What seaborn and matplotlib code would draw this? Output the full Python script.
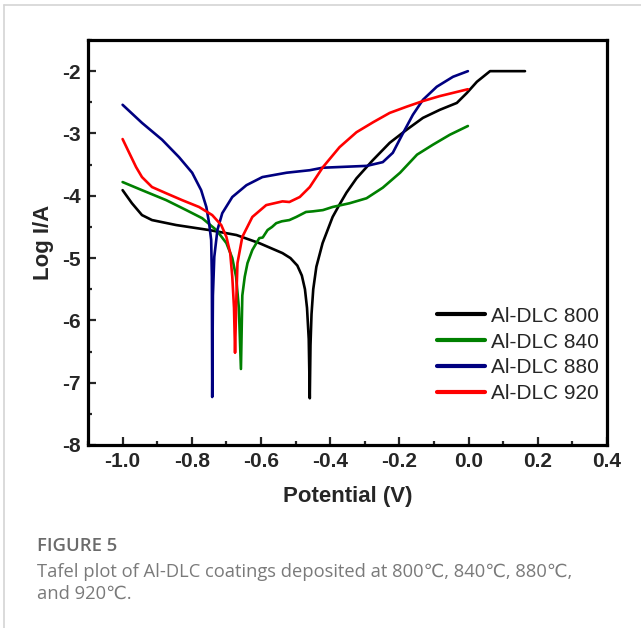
import numpy as np
import pandas as pd
import matplotlib
matplotlib.use("Agg")
import matplotlib.pyplot as plt
import seaborn as sns
from matplotlib.ticker import MultipleLocator, FixedLocator, FixedFormatter
from matplotlib.lines import Line2D

# ---------------- data ----------------
series_names = ["Al-DLC 800", "Al-DLC 840", "Al-DLC 880", "Al-DLC 920"]

v_800 = [-1.0, -0.973, -0.944, -0.915, -0.845, -0.75, -0.671, -0.605, -0.538, -0.515,
         -0.495, -0.482, -0.473, -0.467, -0.462, -0.459, -0.457, -0.454, -0.449, -0.44,
         -0.422, -0.393, -0.373, -0.353, -0.324, -0.277, -0.228, -0.179, -0.132, -0.083,
         -0.034, -0.005, 0.024, 0.062, 0.163]
i_800 = [-3.91, -4.12, -4.31, -4.39, -4.47, -4.55, -4.63, -4.76, -4.92, -5.0,
         -5.12, -5.28, -5.5, -5.8, -6.3, -7.25, -6.4, -5.9, -5.5, -5.14,
         -4.76, -4.34, -4.14, -3.95, -3.72, -3.43, -3.15, -2.94, -2.75, -2.62,
         -2.51, -2.35, -2.17, -2.0, -2.0]

v_840 = [-1.0, -0.944, -0.874, -0.816, -0.77, -0.729, -0.70, -0.683, -0.672, -0.664,
         -0.658, -0.654, -0.647, -0.639, -0.625, -0.605, -0.595, -0.581, -0.568, -0.556,
         -0.54, -0.518, -0.498, -0.47, -0.45, -0.421, -0.393, -0.344, -0.295, -0.248,
         -0.198, -0.149, -0.103, -0.054, -0.002]
i_840 = [-3.78, -3.91, -4.07, -4.23, -4.36, -4.55, -4.76, -5.0, -5.3, -5.8,
         -6.78, -5.6, -5.3, -5.08, -4.87, -4.68, -4.67, -4.55, -4.5, -4.44,
         -4.41, -4.39, -4.34, -4.26, -4.25, -4.23, -4.18, -4.12, -4.04, -3.87,
         -3.63, -3.34, -3.18, -3.02, -2.88]

v_880 = [-1.0, -0.944, -0.886, -0.837, -0.799, -0.773, -0.758, -0.75, -0.744, -0.742,
         -0.741, -0.739, -0.735, -0.726, -0.712, -0.683, -0.642, -0.596, -0.526, -0.459,
         -0.422, -0.294, -0.248, -0.219, -0.19, -0.161, -0.132, -0.092, -0.045, -0.002]
i_880 = [-2.54, -2.83, -3.10, -3.38, -3.63, -3.91, -4.18, -4.44, -4.71, -5.3,
         -7.23, -5.6, -4.98, -4.55, -4.28, -4.02, -3.83, -3.70, -3.63, -3.59,
         -3.55, -3.52, -3.46, -3.31, -3.0, -2.70, -2.46, -2.25, -2.09, -2.0]

v_920 = [-1.0, -0.981, -0.961, -0.944, -0.915, -0.874, -0.828, -0.779, -0.741, -0.715,
         -0.70, -0.689, -0.683, -0.678, -0.675, -0.671, -0.668, -0.654, -0.625, -0.585,
         -0.538, -0.518, -0.488, -0.459, -0.421, -0.373, -0.324, -0.276, -0.228, -0.179,
         -0.132, -0.083, -0.002]
i_920 = [-3.09, -3.31, -3.54, -3.70, -3.86, -3.96, -4.07, -4.18, -4.31, -4.47,
         -4.66, -4.92, -5.30, -5.8, -6.52, -5.6, -5.08, -4.66, -4.34, -4.15,
         -4.09, -4.10, -4.02, -3.86, -3.54, -3.22, -2.98, -2.82, -2.67, -2.57,
         -2.48, -2.40, -2.29]

x_ticks = [-1.0, -0.8, -0.6, -0.4, -0.2, 0.0, 0.2, 0.4]
x_tick_labels = ["-1.0", "-0.8", "-0.6", "-0.4", "-0.2", "0.0", "0.2", "0.4"]
y_ticks = [-8, -7, -6, -5, -4, -3, -2]
y_tick_labels = ["-8", "-7", "-6", "-5", "-4", "-3", "-2"]

colors = ["#000000", "#008000", "#000080", "#ff0000"]

caption_title = "FIGURE 5"
caption_text = ("Tafel plot of Al-DLC coatings deposited at 800\u2103, 840\u2103, 880\u2103,\n"
                "and 920\u2103.")

# ---------------- build table ----------------
frames = []
for name, v, i in zip(series_names, [v_800, v_840, v_880, v_920],
                      [i_800, i_840, i_880, i_920]):
    frames.append(pd.DataFrame({"Potential": v, "LogI": i, "Sample": name}))
df = pd.concat(frames, ignore_index=True)

# ---------------- figure ----------------
sns.set_style("white")
plt.rcParams["font.family"] = ["Liberation Sans", "DejaVu Sans"]

W, H = 641, 628
fig = plt.figure(figsize=(W / 100, H / 100), dpi=100)
ax = fig.add_axes([88 / W, 1 - 445 / H, (607 - 88) / W, (445 - 40) / H])

sns.lineplot(data=df, x="Potential", y="LogI", hue="Sample", units="Sample",
             estimator=None, sort=False, palette=dict(zip(series_names, colors)),
             linewidth=1.9, ax=ax, legend=False)
for ln in ax.get_lines():
    ln.set_solid_joinstyle("round")

ax.set_xlim(-1.1, 0.4)
ax.set_ylim(-8, -1.5)

ax.xaxis.set_major_locator(FixedLocator(x_ticks))
ax.xaxis.set_major_formatter(FixedFormatter(x_tick_labels))
ax.yaxis.set_major_locator(FixedLocator(y_ticks))
ax.yaxis.set_major_formatter(FixedFormatter(y_tick_labels))
ax.xaxis.set_minor_locator(MultipleLocator(0.1))
ax.yaxis.set_minor_locator(MultipleLocator(0.5))

ax.tick_params(which="both", direction="in", width=1.6, top=False, right=False,
               left=True, bottom=True)
ax.tick_params(which="major", length=5.5, labelsize=15, pad=5)
ax.tick_params(which="minor", length=3)
for lab in ax.get_xticklabels() + ax.get_yticklabels():
    lab.set_fontweight("bold")

for sp in ax.spines.values():
    sp.set_linewidth(2.3)
    sp.set_color("black")

ax.set_xlabel("Potential (V)", fontsize=16, fontweight="bold", labelpad=11)
ax.set_ylabel("Log I/A", fontsize=16, fontweight="bold", labelpad=6)

handles = [Line2D([0], [0], color=c, lw=3) for c in colors]
ax.legend(handles, series_names, loc="center left",
          bbox_to_anchor=((437 - 88) / 519, (445 - 355) / 405),
          frameon=False, fontsize=15, handlelength=2.3, handletextpad=0.3,
          labelspacing=0.33, borderpad=0, borderaxespad=0)

# caption
fig.text(37 / W, 1 - 546 / H, caption_title, fontsize=13.3, color="#6b6b6b",
         fontweight="semibold", family=["Open Sans", "DejaVu Sans"], va="center")
fig.text(37 / W, 1 - 583 / H, caption_text, fontsize=13.2, color="#7a7a7a",
         family=["Open Sans", "DejaVu Sans"], va="center", linespacing=1.3)

# outer frame lines (left and top)
fig.add_artist(Line2D([4 / W, 4 / W], [0, 1 - 5 / H], transform=fig.transFigure,
                      color="#d4d4d4", lw=1.2))
fig.add_artist(Line2D([4 / W, 1], [1 - 5 / H, 1 - 5 / H], transform=fig.transFigure,
                      color="#d4d4d4", lw=1.2))

fig.savefig("out.png", dpi=100)
